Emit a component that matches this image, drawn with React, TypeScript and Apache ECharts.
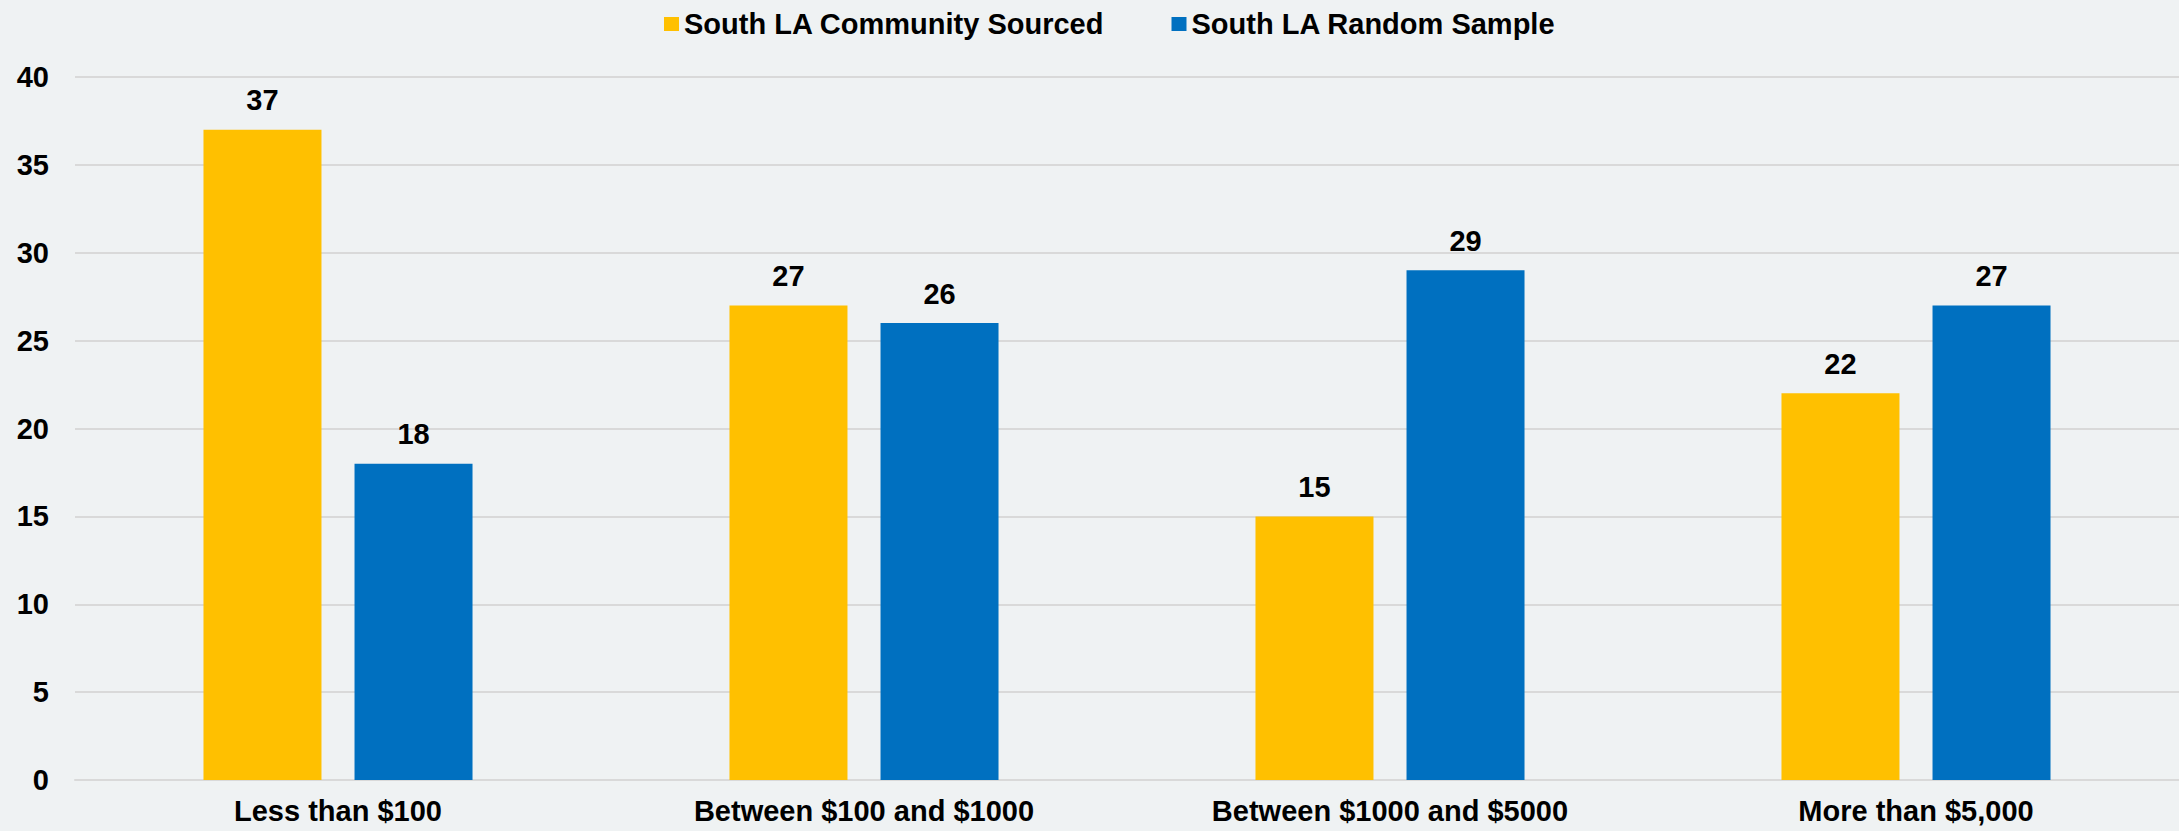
import React, { useEffect, useRef } from "react";
import * as echarts from "echarts";

const categories = ["Less than $100", "Between $100 and $1000", "Between $1000 and $5000", "More than $5,000"];
const communitySourced = [37, 27, 15, 22];
const randomSample = [18, 26, 29, 27];
const seriesNames = ["South LA Community Sourced", "South LA Random Sample"];

const FONT = '"Liberation Sans", Arial, sans-serif';

export default function App() {
  const ref = useRef<HTMLDivElement>(null);
  useEffect(() => {
    const chart = echarts.init(ref.current!, null, { renderer: "svg" });
    const labelStyle = {
      show: true,
      position: "top" as const,
      distance: 15,
      color: "#000",
      fontFamily: FONT,
      fontWeight: "bold" as const,
      fontSize: 29,
    };
    chart.setOption({
      animation: false,
      backgroundColor: "#eff2f3",
      legend: {
        left: 659,
        top: 3,
        itemWidth: 15,
        itemHeight: 14,
        itemGap: 67,
        icon: "rect",
        textStyle: { fontFamily: FONT, fontWeight: "bold", fontSize: 29, color: "#000", lineHeight: 32 },
        data: seriesNames,
      },
      grid: { left: 75, right: 0, top: 77, bottom: 51, containLabel: false },
      xAxis: {
        type: "category",
        data: categories,
        axisLine: { show: true, lineStyle: { color: "#d9d9d9", width: 2 } },
        axisTick: { show: false },
        axisLabel: { margin: 16, color: "#000", fontFamily: FONT, fontWeight: "bold", fontSize: 29 },
      },
      yAxis: {
        type: "value",
        min: 0,
        max: 40,
        interval: 5,
        axisLine: { show: false },
        axisTick: { show: false },
        axisLabel: { margin: 26, color: "#000", fontFamily: FONT, fontWeight: "bold", fontSize: 29 },
        splitLine: { lineStyle: { color: "#d9d9d9", width: 2 } },
      },
      series: [
        {
          name: seriesNames[0],
          type: "bar",
          data: communitySourced,
          barWidth: 118,
          barGap: "28%",
          itemStyle: { color: "#ffc000" },
          label: labelStyle,
        },
        {
          name: seriesNames[1],
          type: "bar",
          data: randomSample,
          barWidth: 118,
          barGap: "28%",
          itemStyle: { color: "#0070c0" },
          label: labelStyle,
        },
      ],
    });
    return () => chart.dispose();
  }, []);
  return (
    <div
      ref={ref}
      style={{ position: "fixed", left: 0, top: 0, width: 2179, height: 831 }}
    />
  );
}
